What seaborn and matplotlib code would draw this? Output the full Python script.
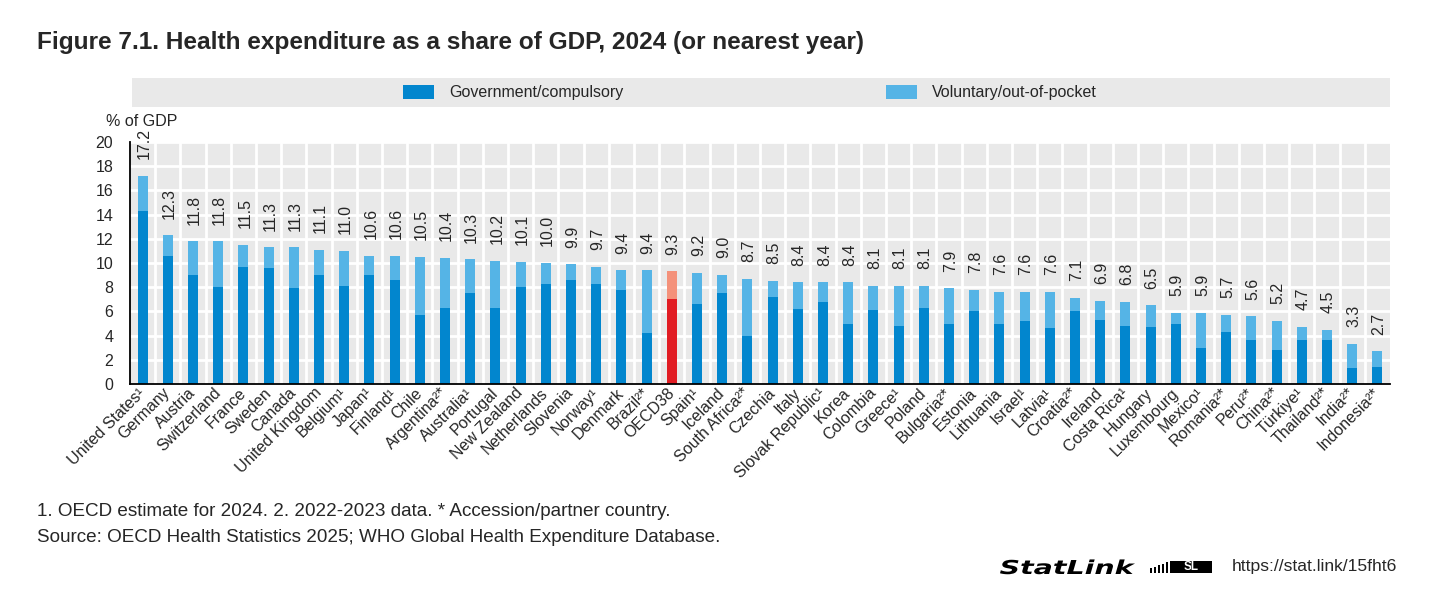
import matplotlib
matplotlib.use("Agg")
import matplotlib.pyplot as plt
from matplotlib.patches import Patch, Rectangle, PathPatch
from matplotlib.textpath import TextPath
from matplotlib.font_manager import FontProperties
from matplotlib.transforms import Affine2D
import seaborn as sns
import pandas as pd
import numpy as np

countries = ["United States¹", "Germany", "Austria", "Switzerland", "France", "Sweden", "Canada",
             "United Kingdom", "Belgium¹", "Japan¹", "Finland¹", "Chile", "Argentina²*", "Australia¹",
             "Portugal", "New Zealand", "Netherlands", "Slovenia", "Norway¹", "Denmark", "Brazil²*",
             "OECD38", "Spain¹", "Iceland", "South Africa²*", "Czechia", "Italy", "Slovak Republic¹",
             "Korea", "Colombia", "Greece¹", "Poland", "Bulgaria²*", "Estonia", "Lithuania", "Israel¹",
             "Latvia¹", "Croatia²*", "Ireland", "Costa Rica¹", "Hungary", "Luxembourg", "Mexico¹",
             "Romania²*", "Peru²*", "China²*", "Türkiye¹", "Thailand²*", "India²*", "Indonesia²*"]
total = [17.2, 12.3, 11.8, 11.8, 11.5, 11.3, 11.3, 11.1, 11.0, 10.6, 10.6, 10.5, 10.4, 10.3, 10.2,
         10.1, 10.0, 9.9, 9.7, 9.4, 9.4, 9.3, 9.2, 9.0, 8.7, 8.5, 8.4, 8.4, 8.4, 8.1, 8.1, 8.1, 7.9,
         7.8, 7.6, 7.6, 7.6, 7.1, 6.9, 6.8, 6.5, 5.9, 5.9, 5.7, 5.6, 5.2, 4.7, 4.5, 3.3, 2.7]
government = [14.3, 10.6, 9.0, 8.0, 9.7, 9.6, 7.9, 9.0, 8.1, 9.0, 8.6, 5.7, 6.3, 7.5, 6.3,
              8.0, 8.3, 8.6, 8.3, 7.8, 4.2, 7.0, 6.6, 7.5, 4.0, 7.2, 6.2, 6.8, 5.0, 6.1, 4.8, 6.3, 5.0,
              6.0, 5.0, 5.2, 4.6, 6.0, 5.3, 4.8, 4.7, 5.0, 3.0, 4.3, 3.6, 2.8, 3.6, 3.6, 1.3, 1.4]
series_names = ["Government/compulsory", "Voluntary/out-of-pocket"]
highlight = "OECD38"
y_ticks = [0, 2, 4, 6, 8, 10, 12, 14, 16, 18, 20]

DARK, LIGHT = "#0286CE", "#55B4E6"
DARK_H, LIGHT_H = "#E11C23", "#F4917A"
BG = "#E9E9E9"

df = pd.DataFrame({"country": countries, "total": total, "gov": government})

sns.set_style("white")
plt.rcParams["font.family"] = ["Liberation Sans", "DejaVu Sans"]

W, H = 1456, 608
fig = plt.figure(figsize=(14.56, 6.08), dpi=100)
ax = fig.add_axes([130 / W, 1 - 384 / H, 1260 / W, 242 / H])
ax.set_facecolor(BG)

pal_light = {c: (LIGHT_H if c == highlight else LIGHT) for c in countries}
pal_dark = {c: (DARK_H if c == highlight else DARK) for c in countries}

sns.barplot(data=df, x="country", y="total", hue="country", palette=pal_light, order=countries,
            width=0.4, legend=False, ax=ax, saturation=1, linewidth=0, zorder=3)
sns.barplot(data=df, x="country", y="gov", hue="country", palette=pal_dark, order=countries,
            width=0.4, legend=False, ax=ax, saturation=1, linewidth=0, zorder=3)

n = len(countries)
ax.set_xlim(-0.5, n - 0.5)
ax.set_ylim(0, 20)
ax.set_yticks(y_ticks)
ax.set_xticks(np.arange(-0.5, n, 1.0), minor=True)
ax.set_xlabel("")
ax.set_ylabel("")

ax.grid(False)
for yv in y_ticks[1:]:
    ax.axhline(yv, color="white", lw=2.0, zorder=1)
for xv in np.arange(0.5, n - 0.5, 1.0):
    ax.axvline(xv, color="white", lw=2.0, zorder=1)

for s in ["top", "right"]:
    ax.spines[s].set_visible(False)
for s in ["left", "bottom"]:
    ax.spines[s].set_color("black")
    ax.spines[s].set_linewidth(1.3)
    ax.spines[s].set_zorder(5)

ax.tick_params(axis="y", direction="in", length=4, width=1, color="black", labelsize=11.5, pad=12)
ax.tick_params(axis="x", which="major", length=0, labelsize=11.5, pad=3)
ax.tick_params(axis="x", which="minor", direction="in", length=5, width=1, color="black")
ax.set_xticks(range(n))
ax.set_xticklabels(countries, rotation=45, ha="right", va="center", rotation_mode="anchor")
for lbl in ax.get_xticklabels():
    lbl.set_y(-0.01)

for i, v in enumerate(total):
    ax.annotate(f"{v:.1f}", xy=(i, v), xytext=(1, 12), textcoords="offset points",
                rotation=90, ha="center", va="bottom", fontsize=11.5, annotation_clip=False, zorder=6)

# legend band
fig.add_artist(Rectangle((132 / W, 1 - 107 / H), (1390 - 132) / W, 29 / H,
                         transform=fig.transFigure, facecolor=BG, edgecolor="none", zorder=0))
handles = [Patch(facecolor=DARK, edgecolor="none", label=series_names[0]),
           Patch(facecolor=LIGHT, edgecolor="none", label=series_names[1])]
fig.legend(handles=handles, loc="center", bbox_to_anchor=(750 / W, 1 - 92.5 / H),
           bbox_transform=fig.transFigure, ncol=2, frameon=False, fontsize=11.5,
           handlelength=1.95, handleheight=0.95, handletextpad=0.95, columnspacing=16.4,
           borderpad=0, borderaxespad=0)

fig.text(106 / W, 1 - 121 / H, "% of GDP", fontsize=11.5, ha="left", va="center")

fig.text(37 / W, 1 - 43 / H, "Figure 7.1. Health expenditure as a share of GDP, 2024 (or nearest year)",
         fontsize=17.6, fontweight="bold", ha="left", va="center")

fig.text(37 / W, 1 - 512 / H,
         "1. OECD estimate for 2024. 2. 2022-2023 data. * Accession/partner country.",
         fontsize=13.6, ha="left", va="center")
fig.text(37 / W, 1 - 538 / H,
         "Source: OECD Health Statistics 2025; WHO Global Health Expenditure Database.",
         fontsize=13.6, ha="left", va="center")

# StatLink footer
tp = TextPath((0, 0), "StatLink", size=1,
              prop=FontProperties(family="DejaVu Sans", weight="bold", style="italic"))
ext = tp.get_extents()
sx = 135 / ext.width
sy = 14 / 0.73
tr = Affine2D().translate(-ext.x0, 0).scale(sx / W, sy / H).translate(1000 / W, 1 - 574 / H) + fig.transFigure
fig.add_artist(PathPatch(tp, transform=tr, facecolor="black", edgecolor="none"))

fig.add_artist(Rectangle((1170 / W, 1 - 573 / H), 42 / W, 12 / H,
                         transform=fig.transFigure, facecolor="black", edgecolor="none"))
for k in range(5):
    fig.add_artist(Rectangle(((1150 + k * 4) / W, 1 - 573 / H), 2 / W, (5 + k * 1.5) / H,
                             transform=fig.transFigure, facecolor="black", edgecolor="none"))
fig.text(1191 / W, 1 - 567 / H, "SL", fontsize=8.5, fontweight="bold", color="white",
         ha="center", va="center")
fig.text(1232 / W, 1 - 567 / H, "https://stat.link/15fht6", fontsize=12.6, ha="left", va="center")

fig.savefig("out.png", dpi=100)
